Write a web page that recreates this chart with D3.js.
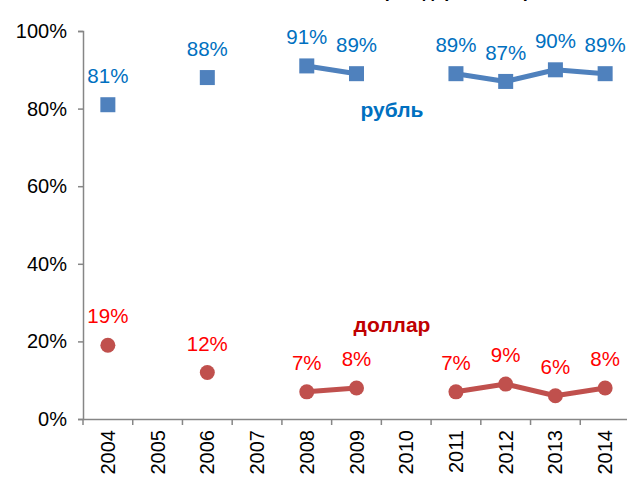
<!DOCTYPE html>
<html><head><meta charset="utf-8">
<script src="https://cdn.jsdelivr.net/npm/d3@7"></script>
<style>body{margin:0;background:#fff}svg{display:block;font-family:Arial,"Liberation Sans",sans-serif}</style>
</head><body>
<svg id="c" width="627" height="480"></svg>
<script>
const years = ["2004","2005","2006","2007","2008","2009","2010","2011","2012","2013","2014"];
const rub = [81, null, 88, null, 91, 89, null, 89, 87, 90, 89];
const usd = [19, null, 12, null, 7, 8, null, 7, 9, 6, 8];
const yTicks = [0, 20, 40, 60, 80, 100];
const seriesNames = ["рубль", "доллар"];
const title = "Валюта, в которой держат сбережения";

const svg = d3.select("#c");
const x = d3.scaleBand().domain(years).range([83, 630]).padding(0);
const y = d3.scaleLinear().domain([0, 100]).range([419, 31]);
const axisColor = "#868686";
const FF = "Arial, 'Liberation Sans', sans-serif";

svg.append("text").attr("x", 425).attr("y", -3).attr("text-anchor", "middle")
  .attr("font-size", 18).attr("font-weight", "bold").attr("fill", "#000").text(title);

// Y axis
const ya = svg.append("g").attr("transform", "translate(83,0)")
  .call(d3.axisLeft(y).tickValues(yTicks).tickSize(5).tickFormat(d => d + "%"));
ya.select(".domain").attr("stroke", axisColor).attr("stroke-width", 1.5);
ya.selectAll(".tick line").attr("stroke", axisColor).attr("stroke-width", 1.5);
ya.selectAll(".tick text").attr("font-size", 20).attr("fill", "#000").attr("x", -16)
  .attr("font-family", FF);

// X axis
const xa = svg.append("g").attr("transform", "translate(0,419)")
  .call(d3.axisBottom(x).tickSize(0).tickSizeOuter(0));
xa.select(".domain").attr("stroke", axisColor).attr("stroke-width", 1.5);
xa.selectAll(".tick text").attr("font-size", 20).attr("fill", "#000")
  .attr("font-family", FF)
  .attr("transform", "rotate(-90)").attr("text-anchor", "end")
  .attr("x", -11).attr("y", 0).attr("dy", "0.35em");
svg.append("g").selectAll("line").data(years).join("line")
  .attr("x1", d => x(d)).attr("x2", d => x(d)).attr("y1", 419).attr("y2", 425)
  .attr("stroke", axisColor).attr("stroke-width", 1.5);

const cx = d => x(d) + x.bandwidth() / 2;

function drawSeries(vals, lineColor, labelColor, marker) {
  const data = years.map((yr, i) => ({yr, v: vals[i]}));
  const line = d3.line().defined(d => d.v != null).x(d => cx(d.yr)).y(d => y(d.v));
  svg.append("path").datum(data).attr("d", line).attr("fill", "none")
    .attr("stroke", lineColor).attr("stroke-width", 5).attr("stroke-linejoin", "round");
  const pts = data.filter(d => d.v != null);
  if (marker === "square") {
    svg.append("g").selectAll("rect").data(pts).join("rect")
      .attr("x", d => cx(d.yr) - 7.5).attr("y", d => y(d.v) - 7.5)
      .attr("width", 15).attr("height", 15).attr("fill", lineColor);
  } else {
    svg.append("g").selectAll("circle").data(pts).join("circle")
      .attr("cx", d => cx(d.yr)).attr("cy", d => y(d.v)).attr("r", 7.5).attr("fill", lineColor);
  }
  svg.append("g").selectAll("text").data(pts).join("text")
    .attr("x", d => cx(d.yr)).attr("y", d => y(d.v) - 29).attr("dy", "0.35em")
    .attr("text-anchor", "middle").attr("font-size", 20.5).attr("fill", labelColor)
    .text(d => d.v + "%");
}
drawSeries(rub, "#4F81BD", "#0070C0", "square");
drawSeries(usd, "#C0504D", "#FF0000", "circle");

svg.append("text").attr("x", 392).attr("y", 110).attr("dy", "0.35em").attr("text-anchor", "middle")
  .attr("font-size", 21).attr("font-weight", "bold").attr("fill", "#0070C0").text(seriesNames[0]);
svg.append("text").attr("x", 392).attr("y", 325).attr("dy", "0.35em").attr("text-anchor", "middle")
  .attr("font-size", 21).attr("font-weight", "bold").attr("fill", "#C00000").text(seriesNames[1]);
</script>
</body></html>
